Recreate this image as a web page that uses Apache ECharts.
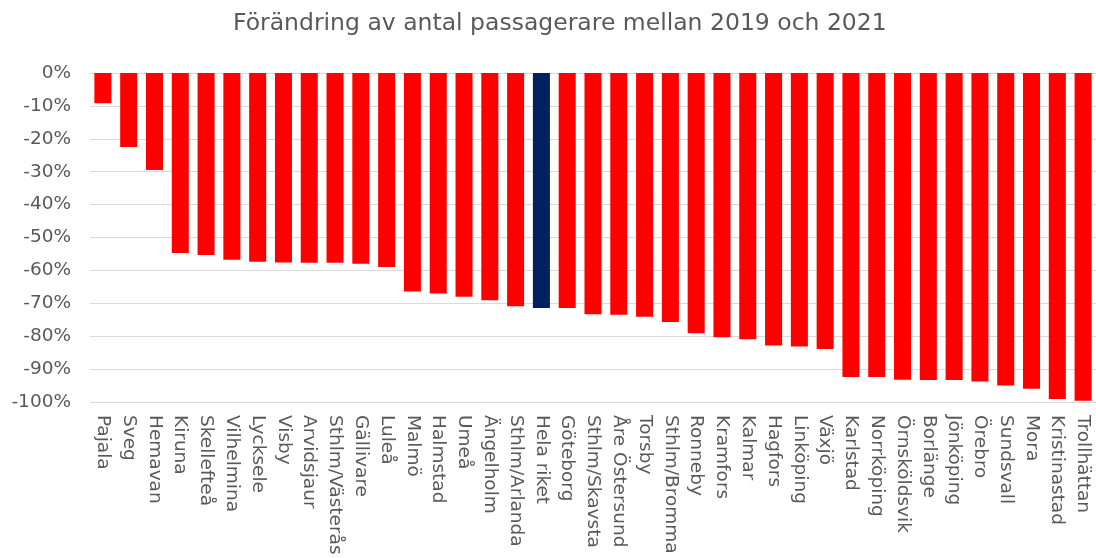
<!DOCTYPE html>
<html>
<head>
<meta charset="utf-8">
<script src="https://cdn.jsdelivr.net/npm/echarts@6/dist/echarts.min.js"></script>
<style>html,body{margin:0;padding:0;background:#fff}#c{width:1096px;height:558px}</style>
</head>
<body>
<div id="c"></div>
<script>
const titleText = 'Förändring av antal passagerare mellan 2019 och 2021';
const categories = ['Pajala','Sveg','Hemavan','Kiruna','Skellefteå','Vilhelmina','Lycksele','Visby','Arvidsjaur','Sthlm/Västerås','Gällivare','Luleå','Malmö','Halmstad','Umeå','Ängelholm','Sthlm/Arlanda','Hela riket','Göteborg','Sthlm/Skavsta','Åre Östersund','Torsby','Sthlm/Bromma','Ronneby','Kramfors','Kalmar','Hagfors','Linköping','Växjö','Karlstad','Norrköping','Örnsköldsvik','Borlänge','Jönköping','Örebro','Sundsvall','Mora','Kristinastad','Trollhättan'];
const changePct = [-9.2,-22.5,-29.5,-54.7,-55.3,-56.8,-57.4,-57.6,-57.7,-57.7,-58.0,-59.0,-66.4,-67.0,-68.0,-69.1,-70.9,-71.4,-71.4,-73.3,-73.5,-74.1,-75.7,-79.1,-80.3,-80.9,-82.8,-83.1,-83.9,-92.4,-92.4,-93.2,-93.3,-93.3,-93.8,-95.0,-96.0,-99.1,-99.6];
const highlightName = 'Hela riket';
const yTicks = {min: -100, max: 0, interval: 10};

const red = '#FF0000', navy = '#002060', txt = '#595959';
const chart = echarts.init(document.getElementById('c'));
chart.setOption({
  animation: false,
  title: {
    text: titleText, left: 228, top: 7,
    textStyle: {fontFamily: 'DejaVu Sans', fontSize: 23.5, fontWeight: 'normal', color: txt}
  },
  grid: {left: 90, right: 0, top: 73, bottom: 156, containLabel: false},
  xAxis: {
    type: 'category', data: categories, position: 'bottom',
    axisLine: {show: false, onZero: false}, axisTick: {show: false},
    axisLabel: {interval: 0, rotate: -90, margin: 13, color: txt, fontFamily: 'DejaVu Sans', fontSize: 18.5}
  },
  yAxis: {
    type: 'value', min: yTicks.min, max: yTicks.max, interval: yTicks.interval,
    axisLine: {show: false}, axisTick: {show: false},
    axisLabel: {margin: 19, color: txt, fontFamily: 'DejaVu Sans', fontSize: 18.5, formatter: v => Math.round(v) + '%'},
    splitLine: {lineStyle: {color: '#d9d9d9', width: 1}}
  },
  series: [{
    type: 'bar', barCategoryGap: '34%',
    data: changePct.map((v, i) => ({value: v, itemStyle: {color: categories[i] === highlightName ? navy : red}}))
  }]
});
</script>
</body>
</html>
